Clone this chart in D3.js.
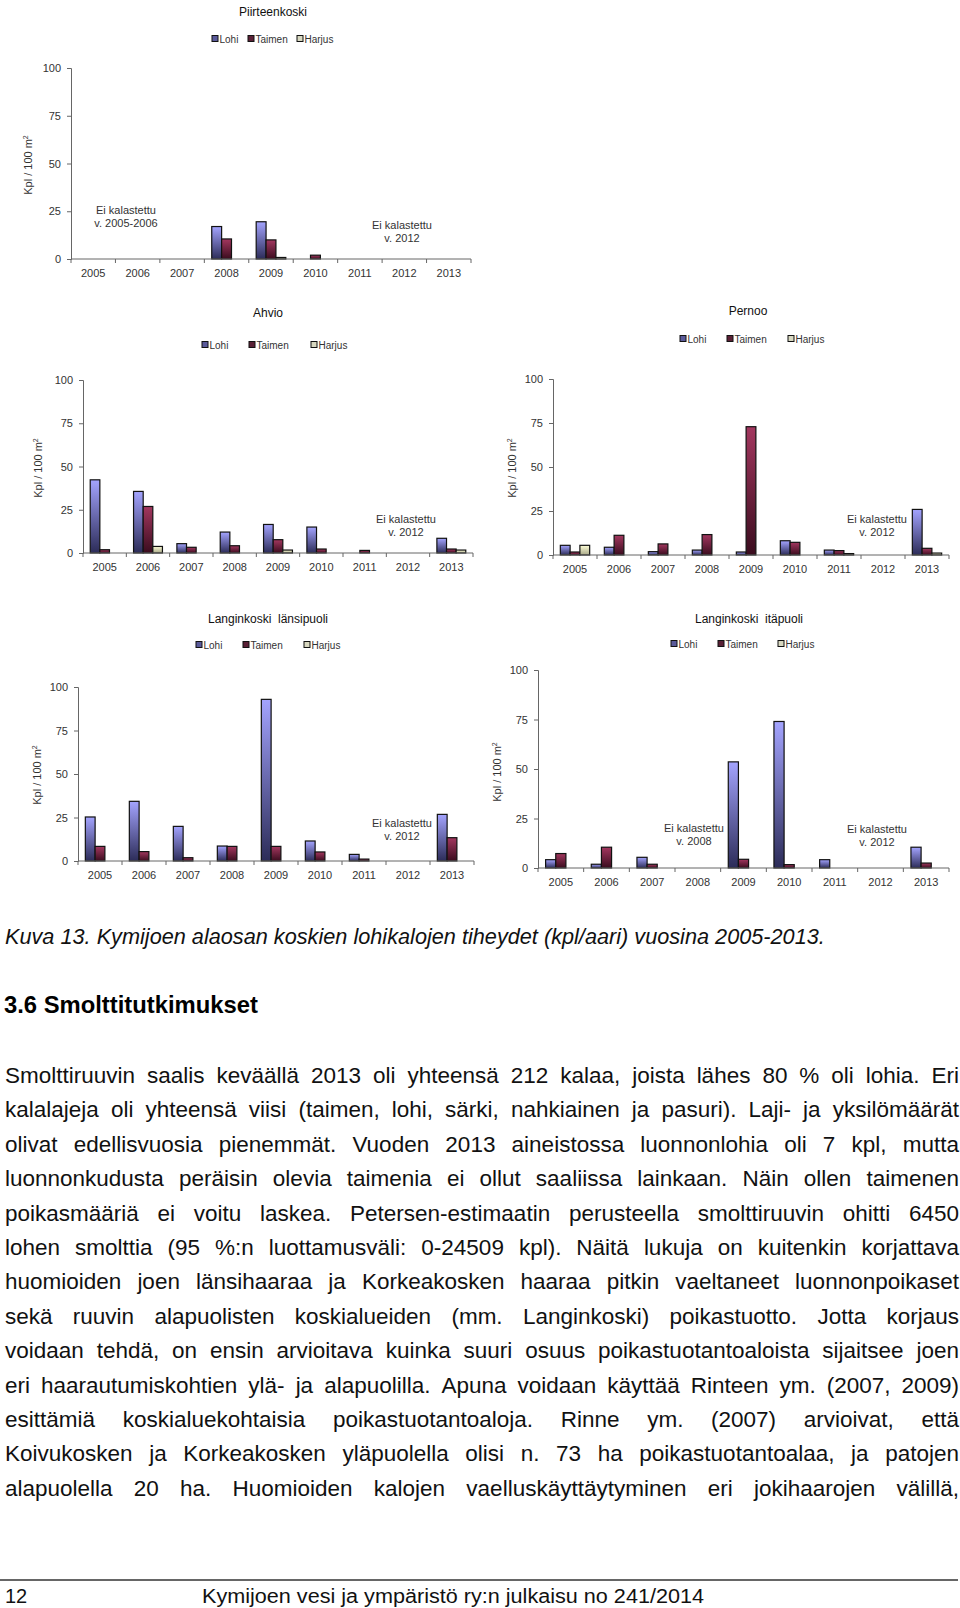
<!DOCTYPE html>
<html><head><meta charset="utf-8">
<script src="https://cdn.jsdelivr.net/npm/d3@7"></script>
<style>
html,body{margin:0;padding:0;background:#fff;}
svg{display:block;}
</style></head>
<body>
<svg id="page" width="960" height="1608"></svg>
<script>
// ---------------- DATA ----------------
const years = ["2005","2006","2007","2008","2009","2010","2011","2012","2013"];
const seriesNames = ["Lohi","Taimen","Harjus"];
const yTicks = [0,25,50,75,100];

const piirTitle = "Piirteenkoski";
const piirLohi   = [0,0,0,17,19.5,0,0,0,0];
const piirTaimen = [0,0,0,10.5,10,2,0,0,0];
const piirHarjus = [0,0,0,0,0.8,0,0,0,0];

const ahvTitle = "Ahvio";
const ahvLohi   = [42.3,35.6,5.4,12.1,16.5,15,0,0,8.5];
const ahvTaimen = [1.9,26.9,3.3,4.2,7.7,2.3,1.5,0,2.3];
const ahvHarjus = [0,3.8,0,0,1.7,0,0,0,1.7];

const perTitle = "Pernoo";
const perLohi   = [5.5,4.4,1.9,2.8,1.7,8.1,2.8,0,25.9];
const perTaimen = [1.7,11.2,6.3,11.6,72.9,7.2,2.5,0,3.8];
const perHarjus = [5.5,0,0,0,0,0,0.8,0,1.1];

const lanTitle = "Langinkoski  länsipuoli";
const lanLohi   = [25.3,34.3,19.9,8.6,92.9,11.5,3.8,0,26.8];
const lanTaimen = [8.4,5.4,1.9,8.4,8.4,5.2,1.1,0,13.4];
const lanHarjus = [0,0,0,0,0,0,0,0,0];

const itaTitle = "Langinkoski  itäpuoli";
const itaLohi   = [4.2,1.9,5.4,0,53.6,74,4.2,0,10.5];
const itaTaimen = [7.3,10.5,1.9,0,4.4,1.7,0,0,2.5];
const itaHarjus = [0,0,0,0,0,0,0,0,0];

const noteA = ["Ei kalastettu","v. 2005-2006"];
const note2008 = ["Ei kalastettu","v. 2008"];
const note2012 = ["Ei kalastettu","v. 2012"];

const captionText = "Kuva 13. Kymijoen alaosan koskien lohikalojen tiheydet (kpl/aari) vuosina 2005-2013.";
const headingText = "3.6 Smolttitutkimukset";
const bodyLines = [
"Smolttiruuvin saalis keväällä 2013 oli yhteensä 212 kalaa, joista lähes 80 % oli lohia. Eri",
"kalalajeja oli yhteensä viisi (taimen, lohi, särki, nahkiainen ja pasuri). Laji- ja yksilömäärät",
"olivat edellisvuosia pienemmät. Vuoden 2013 aineistossa luonnonlohia oli 7 kpl, mutta",
"luonnonkudusta peräisin olevia taimenia ei ollut saaliissa lainkaan. Näin ollen taimenen",
"poikasmääriä ei voitu laskea. Petersen-estimaatin perusteella smolttiruuvin ohitti 6450",
"lohen smolttia (95 %:n luottamusväli: 0-24509 kpl). Näitä lukuja on kuitenkin korjattava",
"huomioiden joen länsihaaraa ja Korkeakosken haaraa pitkin vaeltaneet luonnonpoikaset",
"sekä ruuvin alapuolisten koskialueiden (mm. Langinkoski) poikastuotto. Jotta korjaus",
"voidaan tehdä, on ensin arvioitava kuinka suuri osuus poikastuotantoaloista sijaitsee joen",
"eri haarautumiskohtien ylä- ja alapuolilla. Apuna voidaan käyttää Rinteen ym. (2007, 2009)",
"esittämiä koskialuekohtaisia poikastuotantoaloja. Rinne ym. (2007) arvioivat, että",
"Koivukosken ja Korkeakosken yläpuolella olisi n. 73 ha poikastuotantoalaa, ja patojen",
"alapuolella 20 ha. Huomioiden kalojen vaelluskäyttäytyminen eri jokihaarojen välillä,"
];
const footerPage = "12";
const footerText = "Kymijoen vesi ja ympäristö ry:n julkaisu no 241/2014";

// ---------------- LAYOUT ----------------
const charts = [
 {title:piirTitle, data:[piirLohi,piirTaimen,piirHarjus], tx:273, ty:12, ly:39, lx:[212,248,297],
  x0:71, x1:471, y0:259, y100:68, ylx:28, yly:165,
  notes:[{x:126,y:210,t:noteA},{x:402,y:225,t:note2012}]},
 {title:ahvTitle, data:[ahvLohi,ahvTaimen,ahvHarjus], tx:268, ty:313, ly:345, lx:[202,249,311],
  x0:83, x1:473, y0:553, y100:380, ylx:38, yly:468,
  notes:[{x:406,y:519,t:note2012}]},
 {title:perTitle, data:[perLohi,perTaimen,perHarjus], tx:748, ty:311, ly:339, lx:[680,727,788],
  x0:553, x1:949, y0:555, y100:379, ylx:512, yly:468,
  notes:[{x:877,y:519,t:note2012}]},
 {title:lanTitle, data:[lanLohi,lanTaimen,lanHarjus], tx:268, ty:619, ly:645, lx:[196,243,304],
  x0:78, x1:474, y0:861, y100:687, ylx:37, yly:775,
  notes:[{x:402,y:823,t:note2012}]},
 {title:itaTitle, data:[itaLohi,itaTaimen,itaHarjus], tx:749, ty:619, ly:644, lx:[671,718,778],
  x0:538, x1:949, y0:868, y100:670, ylx:497, yly:772,
  notes:[{x:694,y:828,t:note2008},{x:877,y:829,t:note2012}]}
];

const svg = d3.select("#page");
const defs = svg.append("defs");
const grads = [["#a4a4ff","#2c2c58"],["#a3375f","#3a0c1e"],["#ffffd8","#a8a888"]];
grads.forEach((g,i)=>{
  const lg = defs.append("linearGradient").attr("id","g"+i).attr("x1",0).attr("y1",0).attr("x2",0).attr("y2",1);
  lg.append("stop").attr("offset","0%").attr("stop-color",g[0]);
  lg.append("stop").attr("offset","100%").attr("stop-color",g[1]);
});
const legendFill = ["#5a5a9a","#5a2035","#d8d8c0"];
const F = "Liberation Sans, Arial, sans-serif";

charts.forEach(c=>{
  const g = svg.append("g");
  const x = d3.scaleBand().domain(years).range([c.x0,c.x1]).paddingInner(0).paddingOuter(0);
  const y = d3.scaleLinear().domain([0,100]).range([c.y0,c.y100]);
  const bw = x.bandwidth()/4.5;

  // title
  g.append("text").attr("x",c.tx).attr("y",c.ty+4).attr("text-anchor","middle")
   .attr("font-family",F).attr("font-size",12).attr("fill","#111").attr("xml:space","preserve").text(c.title);
  // legend
  seriesNames.forEach((s,i)=>{
    g.append("rect").attr("x",c.lx[i]).attr("y",c.ly-3.5).attr("width",6).attr("height",6)
     .attr("fill",legendFill[i]).attr("stroke","#111").attr("stroke-width",1);
    g.append("text").attr("x",c.lx[i]+7.5).attr("y",c.ly+3.5).attr("font-family",F).attr("font-size",10)
     .attr("fill","#333").text(s);
  });
  // y axis
  const ya = d3.axisLeft(y).tickValues(yTicks).tickSize(4).tickPadding(6);
  const yg = g.append("g").attr("transform",`translate(${c.x0},0)`).call(ya);
  yg.select(".domain").attr("stroke","#666");
  yg.selectAll(".tick line").attr("stroke","#666");
  yg.selectAll("text").attr("font-family",F).attr("font-size",11).attr("fill","#333");
  // bars
  c.data.forEach((arr,si)=>{
    g.selectAll(null).data(years.map((yr,i)=>({yr,v:arr[i]})).filter(d=>d.v>0)).enter()
     .append("rect")
     .attr("x",d=>x(d.yr)+x.bandwidth()/2-1.5*bw+si*bw)
     .attr("y",d=>y(d.v))
     .attr("width",bw)
     .attr("height",d=>c.y0-y(d.v))
     .attr("fill",`url(#g${si})`).attr("stroke","#111").attr("stroke-width",1.2);
  });
  // x axis
  const xa = d3.axisBottom(x).tickSize(0).tickPadding(10);
  const xg = g.append("g").attr("transform",`translate(0,${c.y0})`).call(xa);
  xg.select(".domain").remove();
  xg.selectAll("text").attr("font-family",F).attr("font-size",11).attr("fill","#333");
  g.append("line").attr("x1",c.x0).attr("x2",c.x1).attr("y1",c.y0).attr("y2",c.y0).attr("stroke","#666");
  const bounds = years.map(yr=>x(yr)).concat([c.x1]);
  g.selectAll(null).data(bounds).enter().append("line")
   .attr("x1",d=>d).attr("x2",d=>d).attr("y1",c.y0).attr("y2",c.y0+4).attr("stroke","#666");
  // y label
  const yl = g.append("text").attr("transform",`translate(${c.ylx+4},${c.yly}) rotate(-90)`)
   .attr("text-anchor","middle").attr("font-family",F).attr("font-size",11).attr("fill","#333");
  yl.append("tspan").text("Kpl / 100 m");
  yl.append("tspan").attr("font-size",7).attr("dy",-4).text("2");
  // notes
  c.notes.forEach(n=>{
    n.t.forEach((t,i)=>{
      g.append("text").attr("x",n.x).attr("y",n.y+4+i*12.5).attr("text-anchor","middle")
       .attr("font-family",F).attr("font-size",11).attr("fill","#333").text(t);
    });
  });
});

// ---------------- TEXT ----------------
const TF = "Liberation Sans, Arial, Helvetica, sans-serif";
const fs = 22.5;
svg.append("text").attr("x",5).attr("y",944).attr("font-family",TF).attr("font-style","italic")
  .attr("font-size",21.7).attr("fill","#111").text(captionText);
svg.append("text").attr("x",4).attr("y",1013).attr("font-family",TF).attr("font-weight","bold")
  .attr("font-size",23.8).attr("fill","#000").text(headingText);

const left = 5, right = 959;
bodyLines.forEach((line,li)=>{
  const words = line.split(" ");
  const by = 1083 + li*34.4;
  const t = svg.append("text").attr("y",by).attr("font-family",TF).attr("font-size",fs).attr("fill","#111");
  const spans = words.map(w=>t.append("tspan").text(w));
  const widths = spans.map(s=>s.node().getComputedTextLength());
  const total = d3.sum(widths);
  const gap = (right-left-total)/(words.length-1);
  let cx = left;
  spans.forEach((s,i)=>{ s.attr("x",cx); cx += widths[i]+gap; });
});

// footer
svg.append("line").attr("x1",0).attr("x2",958).attr("y1",1580).attr("y2",1580).attr("stroke","#333").attr("stroke-width",1.5);
const NF = "Liberation Sans Narrow, Arial Narrow, Liberation Sans, sans-serif";
svg.append("text").attr("x",5).attr("y",1603).attr("font-family",NF).attr("font-size",20).attr("fill","#111").text(footerPage);
svg.append("text").attr("x",202).attr("y",1603).attr("font-family",NF).attr("font-size",20).attr("fill","#111")
  .attr("textLength",502).attr("lengthAdjust","spacingAndGlyphs").text(footerText);
</script>
</body></html>
